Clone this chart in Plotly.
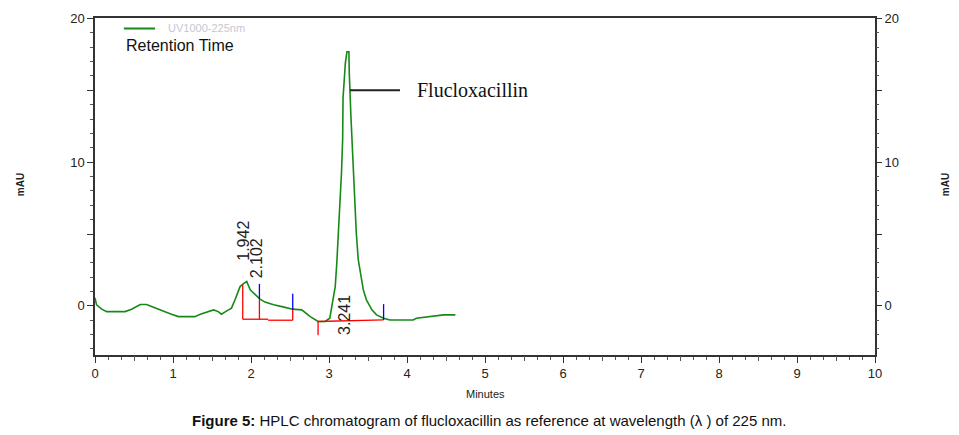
import plotly.graph_objects as go

# Chromatogram (minutes, mAU)
time_min = [0, 0.02, 0.086, 0.15, 0.385, 0.47, 0.58, 0.66, 0.75, 0.855, 0.98, 1.07, 1.28, 1.35,
            1.45, 1.52, 1.58, 1.62, 1.69, 1.75, 1.795, 1.86, 1.90, 1.945, 1.99, 2.05, 2.115, 2.18,
            2.29, 2.41, 2.535, 2.65, 2.76, 2.86, 2.95, 3.01, 3.03, 3.08, 3.10, 3.12, 3.14, 3.16,
            3.175, 3.18, 3.21, 3.23, 3.255, 3.26, 3.28, 3.30, 3.32, 3.35, 3.375, 3.41, 3.44, 3.48,
            3.55, 3.61, 3.70, 3.78, 3.91, 4.08, 4.12, 4.27, 4.47, 4.62]
mau = [0.56, 0.07, -0.23, -0.40, -0.40, -0.23, 0.09, 0.09, -0.09, -0.33, -0.58, -0.75, -0.75, -0.58,
       -0.40, -0.28, -0.40, -0.58, -0.35, -0.16, 0.42, 1.34, 1.53, 1.69, 1.11, 0.77, 0.47, 0.26,
       0.07, -0.07, -0.23, -0.28, -0.75, -1.09, -1.09, -0.86, -0.28, 1.34, 2.98, 4.83, 7.16, 9.25,
       11.57, 14.47, 16.91, 17.68, 17.68, 16.22, 13.31, 10.87, 7.62, 5.07, 3.21, 2.04, 1.11, 0.42,
       -0.28, -0.63, -0.86, -0.98, -0.98, -0.98, -0.86, -0.75, -0.63, -0.63]

# Integration marks (red baselines/drops, blue peak boundaries)
red_x = [1.894, 2.22, None, 2.22, 2.535, None, 1.894, 1.894, None, 2.108, 2.108, None,
         2.535, 2.535, None, 2.86, 2.86, None, 2.86, 3.70]
red_y = [-0.93, -0.93, None, -1.0, -1.0, None, -0.93, 1.46, None, -0.93, 0.47, None,
         -1.0, -0.28, None, -2.04, -1.09, None, -1.09, -0.98]
blue_x = [2.108, 2.108, None, 2.535, 2.535, None, 3.70, 3.70]
blue_y = [0.47, 1.53, None, -0.28, 0.84, None, -0.98, 0.12]

# Peak retention time labels
peak_labels = ["1.942", "2.102", "3.241"]
peak_label_x = [1.91, 2.07, 3.205]
peak_label_y = [3.0, 1.81, -2.16]

# Compound label
compound = "Flucloxacillin"
pointer_x = [3.27, 3.91]
pointer_y = [15.0, 15.0]

x_ticks = list(range(0, 11))
y_ticks = [0, 5, 10, 15, 20]
y_ticktext = ["0", "", "10", "", "20"]

fig = go.Figure()
fig.add_trace(go.Scatter(x=time_min, y=mau, mode="lines",
                         line=dict(color="#168a16", width=1.6), hoverinfo="skip"))
fig.add_trace(go.Scatter(x=red_x, y=red_y, mode="lines",
                         line=dict(color="#ff0000", width=1.3), hoverinfo="skip"))
fig.add_trace(go.Scatter(x=blue_x, y=blue_y, mode="lines",
                         line=dict(color="#0000ff", width=1.3), hoverinfo="skip"))
fig.add_trace(go.Scatter(x=pointer_x, y=pointer_y, mode="lines",
                         line=dict(color="#222222", width=2), hoverinfo="skip"))
# invisible traces to activate overlay axes
fig.add_trace(go.Scatter(x=[None], y=[None], xaxis="x2", yaxis="y", showlegend=False))
fig.add_trace(go.Scatter(x=[None], y=[None], xaxis="x", yaxis="y2", showlegend=False))

axis_font = dict(family="Liberation Sans, Arial, sans-serif", size=13, color="#222")

fig.update_layout(
    width=959, height=435,
    margin=dict(l=95, r=84, t=18, b=80),
    paper_bgcolor="white", plot_bgcolor="white",
    showlegend=False, hovermode=False,
    xaxis=dict(range=[0, 10], tickvals=x_ticks, ticks="outside", ticklen=6, tickwidth=1.2,
               tickcolor="#333", showline=True, linecolor="#333", linewidth=1.5, mirror=True,
               showgrid=False, zeroline=False, tickfont=axis_font,
               minor=dict(dtick=1/6, tick0=0, ticks="outside", ticklen=3, tickcolor="#555",
                          showgrid=False)),
    xaxis2=dict(range=[0, 10], overlaying="x", matches="x", side="bottom", anchor="y",
                tickvals=[i + 0.5 for i in range(10)], ticks="outside", ticklen=4.5,
                tickcolor="#555", showticklabels=False, showline=False, showgrid=False,
                zeroline=False),
    yaxis=dict(range=[-3.42, 20.03], tickvals=y_ticks, ticktext=y_ticktext, ticks="outside",
               ticklen=6, tickwidth=1.2, tickcolor="#333", showline=True, linecolor="#333",
               linewidth=1.5, mirror=True, showgrid=False, zeroline=False, tickfont=axis_font,
               minor=dict(dtick=1, tick0=0, ticks="outside", ticklen=3, tickcolor="#555",
                          showgrid=False)),
    yaxis2=dict(range=[-3.42, 20.03], overlaying="y", matches="y", side="right", anchor="x",
                tickvals=y_ticks, ticktext=y_ticktext, ticks="outside", ticklen=6, tickwidth=1.2,
                tickcolor="#333", showline=False, showgrid=False, zeroline=False,
                tickfont=axis_font,
                minor=dict(dtick=1, tick0=0, ticks="outside", ticklen=3, tickcolor="#555",
                           showgrid=False)),
)

for txt, px, py in zip(peak_labels, peak_label_x, peak_label_y):
    fig.add_annotation(x=px, y=py, text=txt, textangle=-90, showarrow=False,
                       xanchor="center", yanchor="bottom",
                       font=dict(family="Liberation Sans, Arial, sans-serif", size=16, color="#222"))

fig.add_annotation(x=4.10, y=15.0, text=compound, showarrow=False, xanchor="left",
                   yanchor="middle",
                   font=dict(family="Liberation Serif, Times New Roman, serif", size=20, color="#111"))

# Legend-like header
fig.add_shape(type="line", xref="paper", yref="paper", x0=0.037, x1=0.077, y0=0.969, y1=0.969,
              line=dict(color="#168a16", width=2))
fig.add_annotation(xref="paper", yref="paper", x=0.091, y=0.969, text="UV1000-225nm",
                   showarrow=False, xanchor="left", yanchor="middle",
                   font=dict(family="Liberation Sans, Arial, sans-serif", size=11, color="#c4c8d0"))
fig.add_annotation(xref="paper", yref="paper", x=0.037, y=0.919, text="Retention Time",
                   showarrow=False, xanchor="left", yanchor="middle",
                   font=dict(family="Liberation Sans, Arial, sans-serif", size=16, color="#111"))

# Axis titles
for xp, xs in [(0, -75), (1, 70)]:
    fig.add_annotation(xref="paper", yref="paper", x=xp, y=0.504, xshift=xs, text="<b>mAU</b>",
                       textangle=-90, showarrow=False, xanchor="center", yanchor="middle",
                       font=dict(family="Liberation Sans, Arial, sans-serif", size=10, color="#222"))
fig.add_annotation(xref="paper", yref="paper", x=0.5, y=-0.116, text="Minutes", showarrow=False,
                   xanchor="center", yanchor="middle",
                   font=dict(family="Liberation Sans, Arial, sans-serif", size=11, color="#222"))

# Caption
fig.add_annotation(xref="paper", yref="paper", x=(489 - 95) / 780, y=-0.193,
                   text="<b>Figure 5:</b> HPLC chromatogram of flucloxacillin as reference at wavelength (λ ) of 225 nm.",
                   showarrow=False, xanchor="center", yanchor="middle",
                   font=dict(family="Liberation Sans, Arial, sans-serif", size=15, color="#111"))

fig.write_html("out.html", config=dict(displayModeBar=False),
               post_script="document.body.style.margin='0';document.body.style.padding='0';")
